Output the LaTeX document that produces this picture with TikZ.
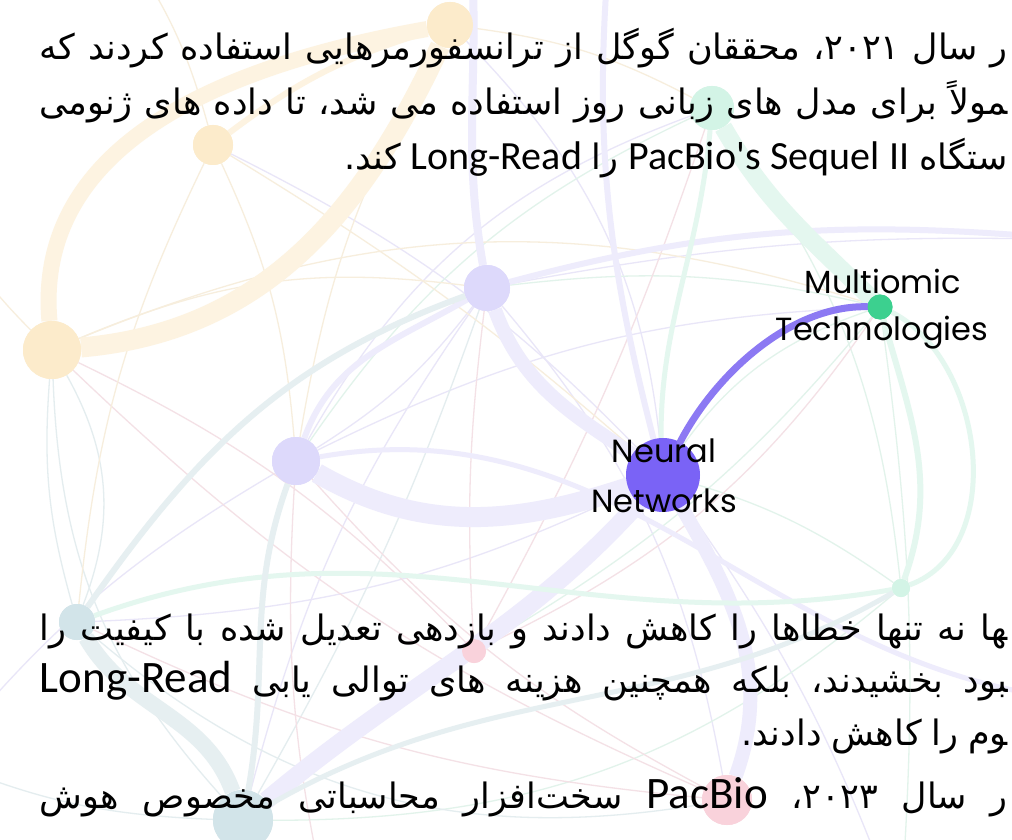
\documentclass[tikz,border=0pt]{standalone}
\usepackage{fontspec}
\usepackage{graphicx}
\setmainfont{Carlito}
\newfontfamily\latfont{Carlito}
\newfontfamily\fa[Script=Arabic]{DejaVu Sans}
\newfontfamily\labfont{Poppins}
\TeXXeTstate=1

% palette
\definecolor{mainV}{HTML}{7A63F6}
\definecolor{edgeV}{HTML}{8C79F3}
\definecolor{mainG}{HTML}{3CD08F}
\definecolor{nodeO}{HTML}{FCEBCB}
\definecolor{nodeV}{HTML}{DDD9FB}
\definecolor{nodeG}{HTML}{D3F4E6}
\definecolor{nodeT}{HTML}{D2E4E9}
\definecolor{nodeP}{HTML}{F9D2DB}
\definecolor{bandO}{HTML}{FDF3E1}
\definecolor{bandV}{HTML}{EEECFC}
\definecolor{bandG}{HTML}{E4F7EF}
\definecolor{bandT}{HTML}{E6EFF1}
\definecolor{thinO}{HTML}{F7EEDD}
\definecolor{thinV}{HTML}{E9E6F8}
\definecolor{thinG}{HTML}{E2F3EB}
\definecolor{thinT}{HTML}{E4EDEF}
\definecolor{thinP}{HTML}{F4E1E6}

% Persian text setup
\newcommand\pfont{\fa\fontsize{35}{40}\selectfont
  \spaceskip=0.28em plus 1fil\relax\xspaceskip=\spaceskip}
% justified right-to-left line of a given width
\newsavebox\jbox
\newcommand\jline[2]{{\pfont
  \sbox\jbox{\beginR#2\endR}%
  \ifdim\wd\jbox>#1\relax
    \resizebox{#1}{\height}{\usebox\jbox}%
  \else
    \hbox to #1{\beginR#2\endR}%
  \fi}}
\newcommand\rline[1]{{\pfont\hbox{\beginR#1\endR}}}
\newcommand\pc{\kern0pt}
\newcommand\latA[1]{\beginL{\latfont\fontsize{40}{48}\selectfont #1}\endL}
\newcommand\latB[1]{\beginL{\latfont\fontsize{45}{52}\selectfont #1}\endL}

\tikzset{
  dot/.style={circle,inner sep=0pt,minimum size=#1},
  faintO/.style={dot=#1,fill=nodeO},
  faintV/.style={dot=#1,fill=nodeV},
  faintG/.style={dot=#1,fill=nodeG},
  faintT/.style={dot=#1,fill=nodeT},
  faintP/.style={dot=#1,fill=nodeP},
  bO/.style={draw=bandO,line width=#1},
  bV/.style={draw=bandV,line width=#1},
  bG/.style={draw=bandG,line width=#1},
  bT/.style={draw=bandT,line width=#1},
  tO/.style={draw=thinO,line width=1.3pt},
  tV/.style={draw=thinV,line width=1.3pt},
  tG/.style={draw=thinG,line width=1.3pt},
  tT/.style={draw=thinT,line width=1.3pt},
  tP/.style={draw=thinP,line width=1.3pt},
  lab/.style={font=\labfont\fontsize{32}{36}\selectfont,inner sep=0pt,anchor=base,text=black},
  para/.style={inner sep=0pt,anchor=base east,text=black},
}

\begin{document}
\begin{tikzpicture}[x=1pt,y=-1pt]
\useasboundingbox (0,0) rectangle (1012,840);
\fill[white] (0,0) rectangle (1012,840);
\clip (0,0) rectangle (1012,840);

% faded graph nodes
\path
  (52,350)  node[faintO=58] (o1) {}
  (213,145) node[faintO=40] (o2) {}
  (450,25)  node[faintO=46] (o3) {}
  (487,288) node[faintV=46] (v1) {}
  (296,461) node[faintV=48] (v2) {}
  (712,108) node[faintG=44] (g1) {}
  (901,588) node[faintG=18] (g2) {}
  (77,622)  node[faintT=36] (t1) {}
  (243,820) node[faintT=60] (t2) {}
  (474,651) node[faintP=24] (p1) {}
  (727,800) node[faintP=50] (p2) {};
\coordinate (xa) at (470,-60);
\coordinate (xb) at (610,-60);
\coordinate (xc) at (1080,240);
\coordinate (xd) at (-60,760);
\coordinate (xe) at (330,920);
\coordinate (xf) at (1080,700);
\coordinate (xg) at (120,-60);
\coordinate (xh) at (900,920);
\coordinate (xi) at (-60,200);
\coordinate (nnc) at (663,475);
\coordinate (moc) at (880,307);

% thin background connectors
\draw[tV] (v1) to[bend left=10] (v2);
\draw[tV] (v1) to[bend left=15] (p2);
\draw[tV] (v2) to[bend left=12] (moc);
\draw[tV] (v1) to[bend left=6] (xc);
\draw[tV] (nnc) to[bend right=10] (o2);
\draw[tV] (nnc) to[bend left=12] (t1);
\draw[tV] (v2) to[bend right=10] (xd);
\draw[tV] (nnc) to[bend left=8] (xh);
\draw[tV] (v1) to[bend right=10] (t2);
\draw[tV] (o3) to[bend left=20] (nnc);
\draw[tV] (v2) to[bend left=20] (g1);
\draw[tV] (v2) to[bend right=25] (nnc);
\draw[tG] (g1) to[bend right=15] (v2);
\draw[tG] (moc) to[bend left=10] (p1);
\draw[tG] (g1) to[bend left=15] (g2);
\draw[tG] (moc) to[bend right=10] (v1);
\draw[tG] (g2) to[bend left=20] (t2);
\draw[tG] (g2) to[bend right=10] (nnc);
\draw[tG] (moc) to[bend left=6] (xh);
\draw[tG] (moc) to[bend right=20] (nnc);
\draw[tT] (t1) to[bend left=10] (o1);
\draw[tT] (t2) to[bend right=5] (v1);
\draw[tT] (t2) to[bend left=10] (xd);
\draw[tT] (t1) to[bend right=25] (p2);
\draw[tT] (o1) to[bend right=20] (t2);
\draw[tT] (o1) to[bend left=25] (t1);
\draw[tP] (p1) to[bend right=10] (o1);
\draw[tP] (p1) to[bend left=5] (v1);
\draw[tP] (p2) to[bend left=10] (v2);
\draw[tP] (p1) to[bend right=5] (g1);
\draw[tP] (p2) to[bend left=10] (t1);
\draw[tP] (p1) to[bend right=15] (moc);
\draw[tP] (o1) to[bend right=10] (p2);
\draw[tP] (v2) to[bend right=8] (xe);
\draw[tO] (o2) to[bend left=10] (v2);
\draw[tO] (o2) to[bend right=10] (t1);
\draw[tO] (o3) to[bend right=10] (v2);
\draw[tO] (o1) to[bend left=15] (v1);
\draw[tO] (o2) to[bend left=5] (nnc);
\draw[tO] (o3) to[bend left=10] (g1);
\draw[tO] (o1) to[bend left=20] (moc);
\draw[tO] (o2) to[bend right=10] (xg);
\draw[tO] (o1) to[bend left=10] (xi);

% wide background connectors
\draw[bO=16] (o1) to[out=95,in=190] (o3);
\draw[bO=20] (o1) to[out=5,in=245] (o3);
\draw[bO=6]  (o2) to[bend left=10] (o3);
\draw[bV=20] (v2) to[out=-30,in=200] (nnc);
\draw[bV=14] (v1) to[out=-70,in=145] (nnc);
\draw[bV=14] (nnc) to[out=-60,in=70] (p2);
\draw[bV=18] (nnc) to[out=-130,in=40] (t2);
\draw[bV=8]  (v1) to[out=100,in=-85] (xa);
\draw[bV=6]  (v1) to[out=15,in=175] (xc);
\draw[bV=6]  (v2) to[out=70,in=210] (v1);
\draw[bV=6]  (nnc) to[out=105,in=-95] (xb);
\draw[bV=5]  (v2) to[out=10,in=175] (xf);
\draw[bG=18] (g1) to[out=-60,in=135] (moc);
\draw[bG=5]  (g1) to[out=-95,in=95] (nnc);
\draw[bG=6]  (moc) to[out=-75,in=70] (g2);
\draw[bG=5]  (moc) to[out=-20,in=20] (g2);
\draw[bG=5]  (t1) to[out=20,in=190] (g2);
\draw[bT=16] (t1) to[out=-60,in=110] (t2);
\draw[bT=6]  (t1) to[out=55,in=200] (v1);
\draw[bT=6]  (v2) to[out=-110,in=80] (t2);
\draw[bT=5]  (t2) to[out=30,in=210] (g2);

% faded nodes drawn again above the connectors
\foreach \n/\c/\s in {o1/nodeO/58,o2/nodeO/40,o3/nodeO/46,v1/nodeV/46,v2/nodeV/48,
  g1/nodeG/44,g2/nodeG/18,t1/nodeT/36,t2/nodeT/60,p1/nodeP/24,p2/nodeP/50}
  \fill[\c] (\n.center) circle ({\s/2});

% highlighted pair
\node[dot=74,fill=mainV] (nn) at (663,475) {};
\node[dot=25,fill=mainG] (mo) at (880,307) {};
\draw[edgeV,line width=7pt,line cap=round] (nn) .. controls (715,375) and (790,305) .. (mo);
\fill[mainG] (mo.center) circle (12.5);

\node[lab] (nnA) at (664,462) {Neural};
\node[lab] (nnB) at (664,512) {Networks};
\node[lab] (moA) at (883,293) {Multiomic};
\node[lab] (moB) at (882,340) {Technologies};

% Persian paragraph, top
\node[para] (l1) at (1008,60) {\jline{968pt}{ر سال \beginL۲۰۲۱\endL\pc، محققان گوگل از ترانسفورمرهایی استفاده کردند که}};
\node[para] (l2) at (1008,115) {\jline{968pt}{^^^^200dمولاً برای مدل های زبانی روز استفاده می شد\pc، تا داده های ژنومی}};
\node[para] (l3) at (1008,170) {\rline{ستگاه \latA{PacBio's Sequel II} را \latA{Long-Read} کند\pc.}};

% Persian paragraph, bottom
\node[para] (l4) at (1008,640) {\jline{968pt}{^^^^200dها نه تنها خطاها را کاهش دادند و بازدهی تعدیل شده با کیفیت را}};
\node[para] (l5) at (1008,692) {\jline{968pt}{^^^^200dبود بخشیدند\pc، بلکه همچنین هزینه های توالی یابی \latB{Long-Read}}};
\node[para] (l6) at (1008,745) {\rline{^^^^200dوم را کاهش دادند\pc.}};
\node[para] (l7) at (1008,808) {\jline{968pt}{ر سال \beginL۲۰۲۳\endL\pc، \latB{PacBio} سخت^^^^200cافزار محاسباتی مخصوص هوش}};
\end{tikzpicture}
\end{document}
